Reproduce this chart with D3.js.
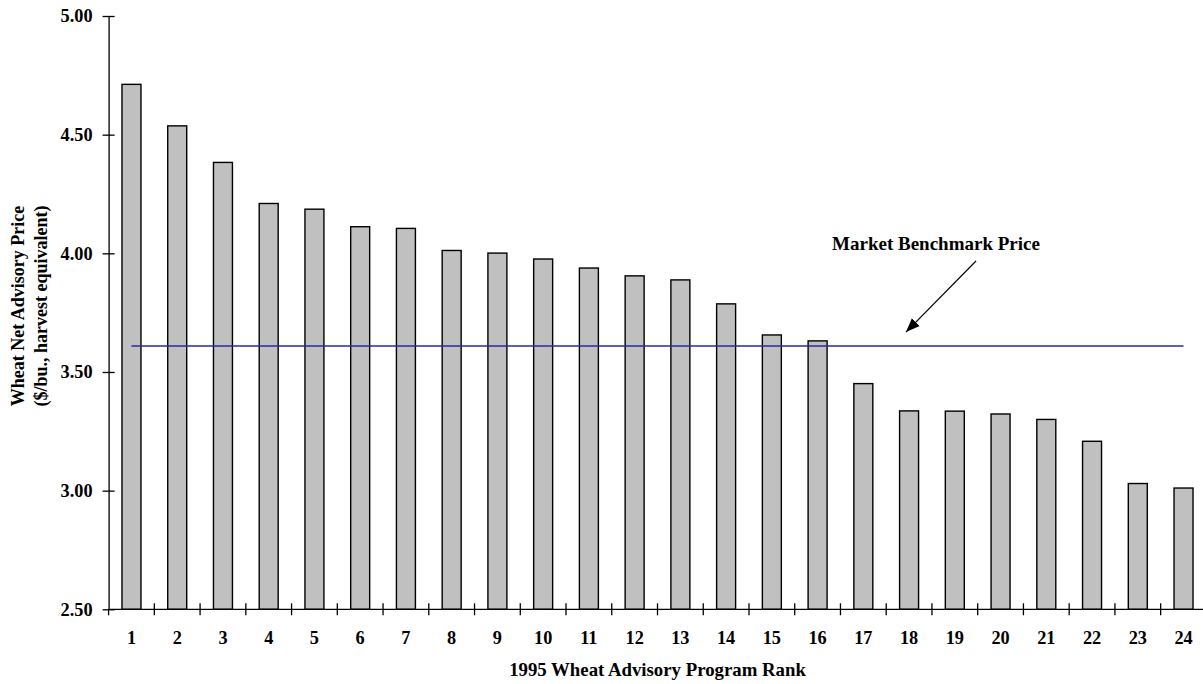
<!DOCTYPE html>
<html>
<head>
<meta charset="utf-8">
<script src="https://cdn.jsdelivr.net/npm/d3@7"></script>
<style>
  html, body { margin: 0; padding: 0; background: #fff; }
  svg { display: block; }
  text { font-family: "Liberation Serif", "Times New Roman", serif; font-weight: bold; fill: #000; }
</style>
</head>
<body>
<svg id="chart" width="1203" height="684"></svg>
<script>
// ---- data ----
const ranks = ["1","2","3","4","5","6","7","8","9","10","11","12","13","14","15","16","17","18","19","20","21","22","23","24"];
const prices = [4.712, 4.537, 4.383, 4.210, 4.186, 4.112, 4.105, 4.012, 4.001, 3.976, 3.938, 3.905, 3.888, 3.787, 3.656, 3.631, 3.451, 3.336, 3.335, 3.323, 3.300, 3.208, 3.030, 3.011];
const benchmark = 3.609;
const yTicks = [2.5, 3.0, 3.5, 4.0, 4.5, 5.0];
const yTitleLines = ["Wheat Net Advisory Price", "($/bu., harvest equivalent)"];
const xTitle = "1995 Wheat Advisory Program Rank";
const benchmarkLabel = "Market Benchmark Price";

// ---- layout ----
const svg = d3.select("#chart");
const x = d3.scaleBand().domain(ranks).range([108.6, 1206.4]).paddingInner(0.585).paddingOuter(0.2925);
const y = d3.scaleLinear().domain([2.5, 5.0]).range([609.3, 16]);
const step = x.step();
const x0 = x.range()[0];

// bars
svg.append("g").selectAll("rect").data(prices).join("rect")
  .attr("x", (d, i) => x(ranks[i]))
  .attr("y", d => y(d))
  .attr("width", x.bandwidth())
  .attr("height", d => y(2.5) - y(d))
  .attr("fill", "#c0c0c0")
  .attr("stroke", "#000")
  .attr("stroke-width", 1.4);

// y axis
const yAxis = d3.axisLeft(y).tickValues(yTicks).tickFormat(d3.format(".2f")).tickSizeInner(6).tickSizeOuter(0).tickPadding(10);
const gy = svg.append("g").attr("transform", `translate(${x0},0)`).call(yAxis);
gy.select(".domain").attr("stroke", "#000").attr("stroke-width", 1.3);
gy.selectAll(".tick line").attr("x2", -6).attr("x1", 6).attr("stroke", "#000").attr("stroke-width", 1.3);
gy.selectAll(".tick text").style("font-size", "18.3px").style("font-family", "'Liberation Serif','Times New Roman',serif").style("font-weight", "bold");
// extend y axis slightly below x axis
svg.append("line").attr("x1", x0).attr("x2", x0).attr("y1", y(2.5)).attr("y2", y(2.5) + 6).attr("stroke", "#000").attr("stroke-width", 1.3);

// x axis baseline and boundary ticks
svg.append("line").attr("x1", x0).attr("x2", x.range()[1]).attr("y1", y(2.5)).attr("y2", y(2.5)).attr("stroke", "#000").attr("stroke-width", 1.3);
const boundaries = d3.range(1, ranks.length);
svg.append("g").selectAll("line").data(boundaries).join("line")
  .attr("x1", i => x0 + i * step).attr("x2", i => x0 + i * step)
  .attr("y1", y(2.5) - 6).attr("y2", y(2.5) + 6)
  .attr("stroke", "#000").attr("stroke-width", 1.3);

// x labels
svg.append("g").selectAll("text").data(ranks).join("text")
  .attr("x", d => x(d) + x.bandwidth() / 2)
  .attr("y", 644)
  .attr("text-anchor", "middle")
  .style("font-size", "18.3px")
  .text(d => d);

// x title
svg.append("text").attr("x", (x0 + x.range()[1]) / 2).attr("y", 676).attr("text-anchor", "middle")
  .style("font-size", "18.8px").text(xTitle);

// y title
yTitleLines.forEach((t, i) => {
  svg.append("text")
    .attr("transform", `translate(${24 + i * 23},306) rotate(-90)`)
    .attr("text-anchor", "middle")
    .style("font-size", "18px")
    .text(t);
});

// benchmark line
svg.append("line")
  .attr("x1", x(ranks[0]) + x.bandwidth() / 2)
  .attr("x2", x(ranks[ranks.length - 1]) + x.bandwidth() / 2)
  .attr("y1", y(benchmark)).attr("y2", y(benchmark))
  .attr("stroke", "#2a2a9a").attr("stroke-width", 1.5);

// annotation
svg.append("defs").append("marker")
  .attr("id", "arrow").attr("viewBox", "0 0 14 12").attr("refX", 14).attr("refY", 6)
  .attr("markerWidth", 14).attr("markerHeight", 12).attr("markerUnits", "userSpaceOnUse")
  .attr("orient", "auto")
  .append("path").attr("d", "M0,0.5 L14,6 L0,11.5 Z").attr("fill", "#000");

svg.append("text").attr("x", 936).attr("y", 250).attr("text-anchor", "middle")
  .style("font-size", "19px").text(benchmarkLabel);

svg.append("line")
  .attr("x1", 976).attr("y1", 261)
  .attr("x2", 906).attr("y2", y(benchmark) - 14)
  .attr("stroke", "#000").attr("stroke-width", 1.2)
  .attr("marker-end", "url(#arrow)");
</script>
</body>
</html>
